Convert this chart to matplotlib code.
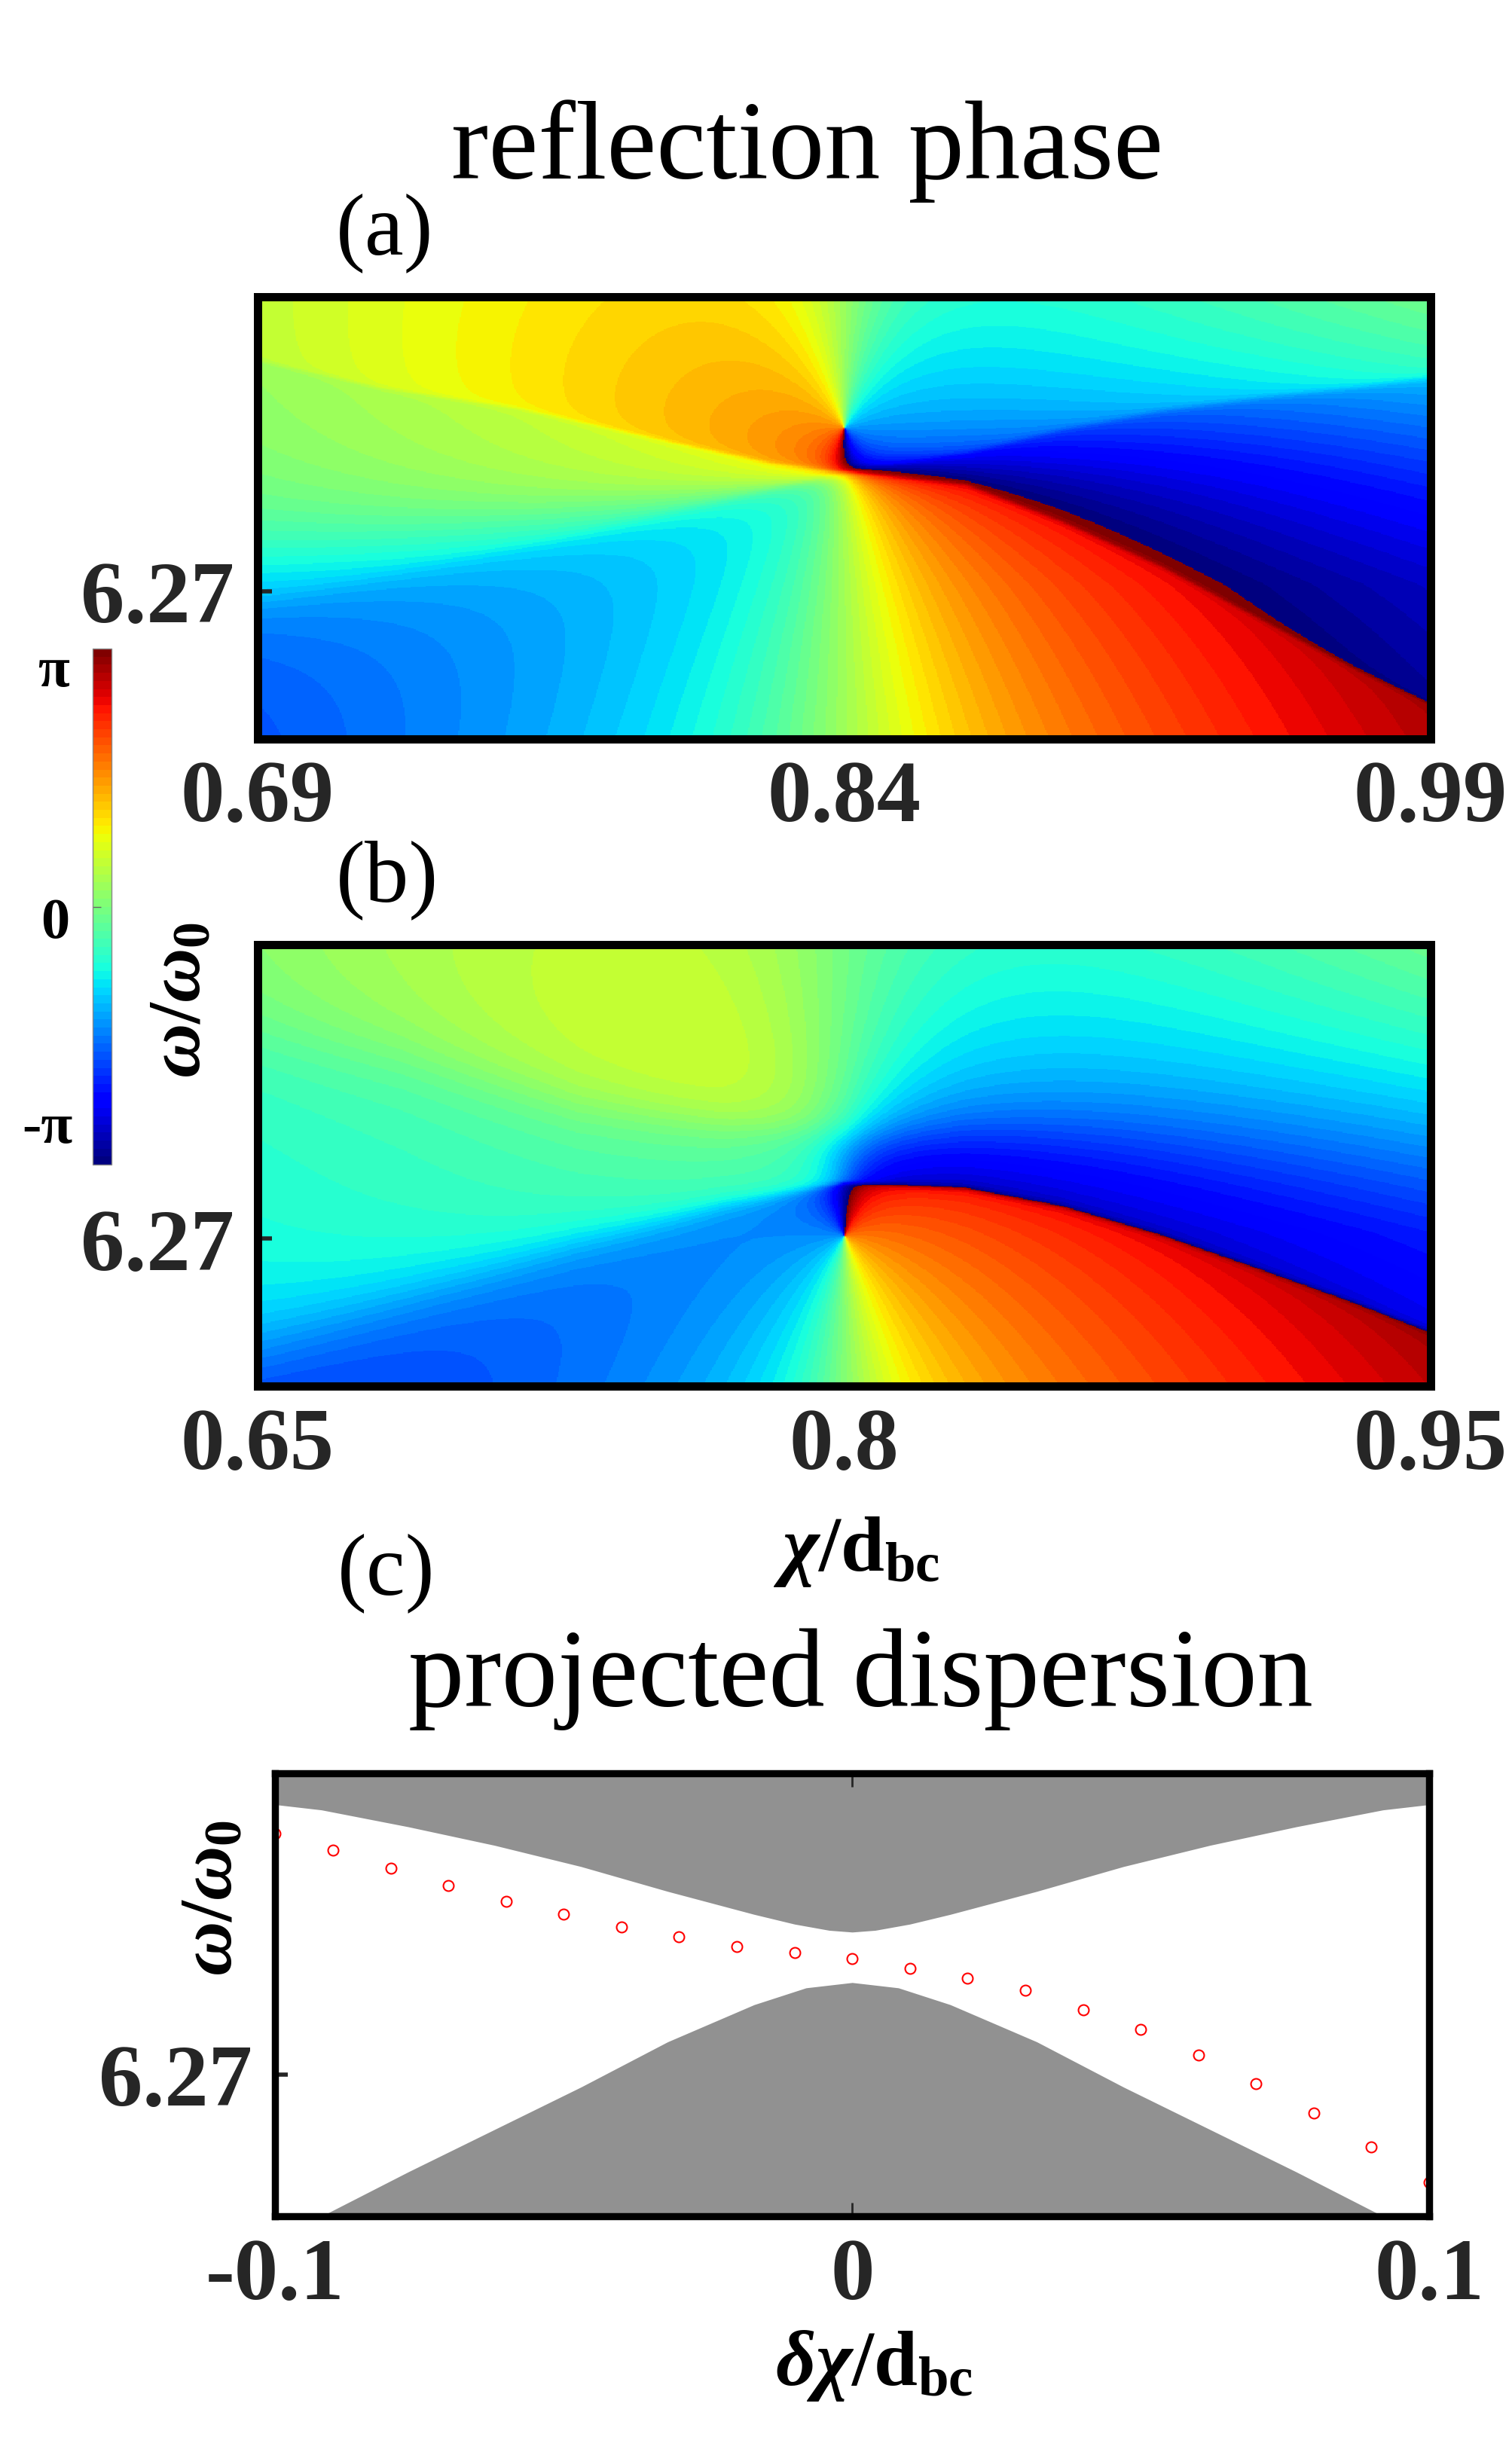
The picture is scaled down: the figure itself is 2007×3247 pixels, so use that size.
import numpy as np
import matplotlib
matplotlib.use('Agg')
from matplotlib import pyplot as plt

plt.rcParams['font.family'] = ['Liberation Serif', 'DejaVu Serif']
plt.rcParams['mathtext.fontset'] = 'custom'
plt.rcParams['mathtext.rm'] = 'Liberation Serif:bold'
plt.rcParams['mathtext.it'] = 'Liberation Serif:italic:bold'
plt.rcParams['mathtext.bf'] = 'Liberation Serif:bold'

# ---- panel (a): reflection phase vs chi/d_bc ----
a_xlim = [0.69, 0.99]
a_xticks = [0.69, 0.84, 0.99]
a_zero = [0.84, 6.2885]   # phase singularity (x, w/w0)
# sharp line falling from top-left to bottom-right
a_l1_x = [0.69, 0.7215, 0.7566, 0.7965, 0.8214, 0.84, 0.871, 0.896, 0.921, 0.946, 0.971, 0.99]
a_l1_y = [6.2961, 6.2930, 6.2907, 6.2868, 6.2845, 6.2835, 6.2821, 6.2778, 6.2728, 6.2669, 6.2611, 6.2572]
# weaker line rising from bottom-left to top-right
a_l2_x = [0.69, 0.765, 0.84, 0.871, 0.896, 0.921, 0.946, 0.971, 0.99]
a_l2_y = [6.2688, 6.2758, 6.2835, 6.2856, 6.2883, 6.2904, 6.2919, 6.2931, 6.2942]
# broad resonance centred under the crossing
a_l3_x = [0.69, 0.84, 0.99]
a_l3_y = [6.2743, 6.2833, 6.2883]

# ---- panel (b) ----
b_xlim = [0.65, 0.95]
b_xticks = [0.65, 0.8, 0.95]
b_zero = [0.80, 6.2703]
b_l1_x = [0.65, 0.695, 0.7316, 0.769, 0.80, 0.831, 0.856, 0.8809, 0.9058, 0.9307, 0.95]
b_l1_y = [6.2580, 6.2646, 6.2697, 6.2739, 6.2763, 6.2757, 6.2736, 6.2704, 6.2666, 6.2627, 6.2594]
b_l2_x = [0.65, 0.6868, 0.7316, 0.769, 0.80, 0.831, 0.8684, 0.9058, 0.95]
b_l2_y = [6.2930, 6.2903, 6.2852, 6.2829, 6.2817, 6.2821, 6.2818, 6.2813, 6.2808]

ab_ylim = [6.2533, 6.3033]
y_ticks = [6.27]

# ---- panel (c): projected dispersion ----
c_xlim = [-0.1, 0.1]
c_ylim = [6.254, 6.304]
c_xticks = [-0.1, 0, 0.1]
band_up_x = [-0.100, -0.092, -0.077, -0.062, -0.047, -0.032, -0.017, -0.010, -0.004, 0.0,
             0.004, 0.010, 0.017, 0.032, 0.047, 0.062, 0.077, 0.092, 0.100]
band_up_y = [6.3005, 6.2999, 6.2980, 6.2959, 6.2935, 6.2907, 6.2881, 6.2870, 6.2863, 6.2861,
             6.2863, 6.2870, 6.2881, 6.2907, 6.2935, 6.2959, 6.2980, 6.2999, 6.3005]
band_lo_x = [-0.100, -0.092, -0.077, -0.062, -0.047, -0.032, -0.017, -0.008, 0.0,
             0.008, 0.017, 0.032, 0.047, 0.062, 0.077, 0.092, 0.100]
band_lo_y = [6.2512, 6.2540, 6.2590, 6.2638, 6.2686, 6.2737, 6.2779, 6.2798, 6.2804,
             6.2798, 6.2779, 6.2737, 6.2686, 6.2638, 6.2590, 6.2540, 6.2512]
edge_x = [-0.10, -0.09, -0.08, -0.07, -0.06, -0.05, -0.04, -0.03, -0.02, -0.01, 0.0,
          0.01, 0.02, 0.03, 0.04, 0.05, 0.06, 0.07, 0.08, 0.09, 0.10]
edge_y = [6.2972, 6.2954, 6.2933, 6.2914, 6.2896, 6.2881, 6.2867, 6.2856, 6.2845, 6.2838, 6.2831,
          6.2820, 6.2809, 6.2795, 6.2773, 6.2751, 6.2722, 6.2690, 6.2657, 6.2618, 6.2578]

# resonance lines: (x, y, width at left/centre/right, weight at left/centre/right)
a_lines = [(a_l1_x, a_l1_y, [0.004, 0.004, 0.004], [0.10, 0.25, 0.15]),
           (a_l2_x, a_l2_y, [0.030, 0.006, 0.008], [0.12, 0.18, 0.22]),
           (a_l3_x, a_l3_y, [0.150, 0.015, 0.250], [0.78, 0.57, 0.63])]
b_lines = [(b_l1_x, b_l1_y, [0.120, 0.004, 0.004], [0.65, 0.45, 0.30]),
           (b_l2_x, b_l2_y, [0.120, 0.050, 0.250], [0.35, 0.55, 0.70])]


def phase_field(xlim, ylim, zero, lines, c0, nx=1000, ny=500):
    """Wrapped reflection phase: one zero plus broadened resonance lines."""
    xs = np.linspace(xlim[0], xlim[1], nx)
    ys = np.linspace(ylim[0], ylim[1], ny)
    h = ylim[1] - ylim[0]
    u = (xs - zero[0]) / (0.5 * (xlim[1] - xlim[0]))
    v = (ys - ylim[0]) / h
    vz = (zero[1] - ylim[0]) / h
    U, V = np.meshgrid(u, v)
    s = np.clip(U, -1, 1)
    phi = c0 + 0.99 * U + np.angle((V - vz) - 3j * U)
    phi = phi + 0.9 * np.maximum(U, 0) * np.maximum(V - 0.35, 0)
    for lx, ly, gam, w in lines:
        vl = (np.interp(xs, lx, ly) - ylim[0]) / h
        g = np.interp(s, [-1, 0, 1], gam)
        wt = np.interp(s, [-1, 0, 1], w)
        phi = phi - wt * np.arctan2(g, V - vl[None, :])
    return np.angle(np.exp(1j * phi))


jet64 = plt.get_cmap('jet', 64)
tick_font = dict(family='Liberation Serif', weight='bold', size=84)
tick_color = '#262626'

fig = plt.figure(figsize=(20.08, 32.48), dpi=100)
ax_a = fig.add_axes([0.1701, 0.6978, 0.7754, 0.1807])
ax_b = fig.add_axes([0.1701, 0.4332, 0.7754, 0.1804])
ax_c = fig.add_axes([0.1820, 0.0939, 0.7627, 0.1809])
cax = fig.add_axes([0.0613, 0.5237, 0.01245, 0.2109])

for ax, xlim, xticks, zero, lines, c0 in [(ax_a, a_xlim, a_xticks, a_zero, a_lines, 0.25),
                                          (ax_b, b_xlim, b_xticks, b_zero, b_lines, 0.0)]:
    ph = phase_field(xlim, ab_ylim, zero, lines, c0)
    im = ax.imshow(ph, cmap=jet64, vmin=-np.pi, vmax=np.pi, origin='lower', aspect='auto',
                   extent=[xlim[0], xlim[1], ab_ylim[0], ab_ylim[1]], interpolation='nearest')
    ax.set_xlim(xlim)
    ax.set_ylim(ab_ylim)
    ax.set_xticks(xticks)
    ax.set_xticklabels([f'{t:g}' for t in xticks])
    ax.set_yticks(y_ticks)
    ax.set_yticklabels(['6.27'])
    ax.tick_params(axis='x', length=0, pad=20, colors=tick_color)
    ax.tick_params(axis='y', direction='in', length=14, width=4, pad=22, colors=tick_color)
    for lab in ax.get_xticklabels() + ax.get_yticklabels():
        lab.set(**tick_font)
    for sp in ax.spines.values():
        sp.set_linewidth(7.9)
        sp.set_capstyle('projecting')

# colorbar
cb = fig.colorbar(im, cax=cax)
cb.outline.set_linewidth(1.0)
cb.outline.set_edgecolor('#888888')
cax.set_yticks([0])
cax.tick_params(axis='y', left=True, right=False, labelleft=False, labelright=False,
                direction='in', length=8, width=1, color='#666666')
cb_font = dict(family='Liberation Serif', weight='bold', size=55, ha='right', va='center')
fig.text(0.0458, 1 - 893 / 3248, 'π', **cb_font)
fig.text(0.0458, 1 - 1226 / 3248, '0', **cb_font)
fig.text(0.0480, 1 - 1498 / 3248, '-π', **cb_font)

# projected dispersion
gray = '#919191'
ax_c.fill_between(band_up_x, band_up_y, c_ylim[1], color=gray, lw=0)
ax_c.fill_between(band_lo_x, c_ylim[0] - 0.01, band_lo_y, color=gray, lw=0)
ax_c.plot(edge_x, edge_y, 'o', mfc='none', mec='red', ms=10, mew=1.5)
ax_c.set_xlim(c_xlim)
ax_c.set_ylim(c_ylim)
ax_c.set_xticks(c_xticks)
ax_c.set_xticklabels(['-0.1', '0', '0.1'])
ax_c.set_yticks(y_ticks)
ax_c.set_yticklabels(['6.27'])
ax_c.tick_params(axis='x', direction='in', top=True, length=13, width=2, pad=20, colors=tick_color)
ax_c.tick_params(axis='y', direction='in', length=12, width=4, pad=22, colors=tick_color)
for lab in ax_c.get_xticklabels() + ax_c.get_yticklabels():
    lab.set(**tick_font)
for sp in ax_c.spines.values():
    sp.set_linewidth(6.8)
    sp.set_capstyle('projecting')

# titles and labels
fig.text(0.5334, 1 - 237 / 3248, 'reflection phase', ha='center', va='baseline', fontsize=107)
fig.text(0.569, 1 - 2265 / 3248, 'projected dispersion', ha='center', va='baseline', fontsize=107)
fig.text(0.222, 1 - 337 / 3248, '(a)', ha='left', va='baseline', fontsize=84)
fig.text(0.222, 1 - 1196 / 3248, '(b)', ha='left', va='baseline', fontsize=84)
fig.text(0.223, 1 - 2116 / 3248, '(c)', ha='left', va='baseline', fontsize=84)
fig.text(0.566, 1 - 2085 / 3248, r'$\chi$/d$_{\rm bc}$', ha='center', va='baseline',
         fontsize=75, weight='bold')
fig.text(0.578, 1 - 3166 / 3248, r'$\delta\chi$/d$_{\rm bc}$', ha='center', va='baseline',
         fontsize=75, weight='bold')
fig.text(0.120, 1 - 1328 / 3248, r'$\omega/\omega_0$', rotation=90, ha='center', va='center', fontsize=72)
fig.text(0.141, 1 - 2520 / 3248, r'$\omega/\omega_0$', rotation=90, ha='center', va='center', fontsize=72)

fig.savefig('out.png', dpi=100)
